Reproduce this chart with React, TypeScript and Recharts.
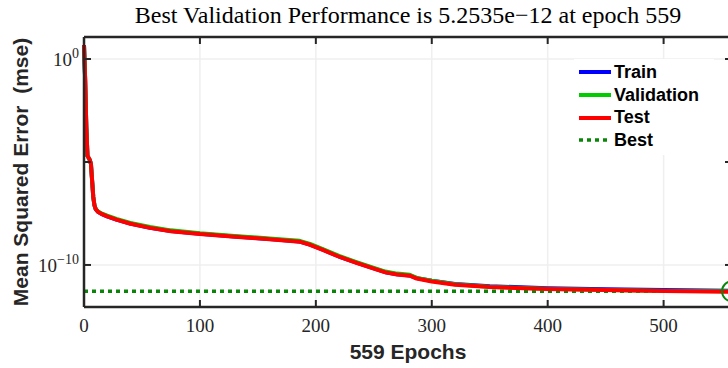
import React from "react";
import {
  LineChart,
  Line,
  XAxis,
  YAxis,
  CartesianGrid,
  ReferenceLine,
  ReferenceDot,
  Legend,
} from "recharts";

// training record, mse stored as log10 values per epoch
const EPOCHS = [
  0, 1, 2, 3, 4, 5, 6, 7, 8, 9, 10, 12, 15, 20, 28, 40, 57, 75, 100, 130, 160,
  186, 195, 206, 220, 235, 250, 260, 270, 281, 287, 300, 320, 350, 400, 450,
  500, 559,
];
const TRAIN_LOG = [
  0.68, -1.0, -3.3, -4.7, -4.8, -4.9, -5.1, -5.9, -6.7, -7.1, -7.28, -7.42,
  -7.52, -7.64, -7.8, -7.99, -8.19, -8.35, -8.49, -8.62, -8.74, -8.86, -9.01,
  -9.26, -9.59, -9.89, -10.17, -10.35, -10.45, -10.51, -10.64, -10.77, -10.92,
  -11.03, -11.13, -11.18, -11.22, -11.25,
];
const VALIDATION_LOG = [
  0.68, -1.0, -3.3, -4.7, -4.8, -4.9, -5.1, -5.9, -6.7, -7.1, -7.27, -7.4,
  -7.49, -7.6, -7.76, -7.96, -8.16, -8.32, -8.46, -8.59, -8.71, -8.83, -8.98,
  -9.23, -9.56, -9.86, -10.14, -10.32, -10.42, -10.48, -10.63, -10.77, -10.94,
  -11.06, -11.16, -11.22, -11.25, -11.2795,
];
const TEST_LOG = [
  0.68, -1.0, -3.3, -4.7, -4.8, -4.9, -5.1, -5.9, -6.7, -7.1, -7.28, -7.42,
  -7.52, -7.64, -7.8, -8.0, -8.2, -8.36, -8.5, -8.63, -8.75, -8.87, -9.02,
  -9.27, -9.6, -9.9, -10.18, -10.36, -10.46, -10.52, -10.66, -10.8, -10.96,
  -11.07, -11.17, -11.22, -11.26, -11.3,
];

const BEST_EPOCH = 559;
const BEST_PERF = 5.2535e-12;

const X_TICKS = [0, 100, 200, 300, 400, 500];
const Y_TICKS = [1e-10, 1e-5, 1];
const Y_LABELED: Record<number, string> = { 1: "0", 1e-10: "\u221210" };
const Y_DOMAIN = [9.1e-13, 11.7];

const SERIES = [
  { key: "train", name: "Train", color: "#0000ff" },
  { key: "validation", name: "Validation", color: "#00cc00" },
  { key: "test", name: "Test", color: "#ff0000" },
];
const BEST_COLOR = "#0a850a";

const data = EPOCHS.map((epoch, i) => ({
  epoch,
  train: 10 ** TRAIN_LOG[i],
  validation: 10 ** VALIDATION_LOG[i],
  test: 10 ** TEST_LOG[i],
}));

const W = 760;
const H = 368;
const LEFT = 84;
const TOP = 37;
const PLOT_W = 648;
const PLOT_H = 270;
const AXIS = "#262626";
const SERIF = "'Liberation Serif', 'DejaVu Serif', serif";
const SANS = "'Liberation Sans', Arial, sans-serif";
const TICK_LEN = 7;

function XTick({ x, y, payload }: any) {
  return (
    <g>
      <line x1={x} x2={x} y1={y} y2={y - TICK_LEN} stroke={AXIS} strokeWidth={2} />
      <line x1={x} x2={x} y1={TOP} y2={TOP + TICK_LEN} stroke={AXIS} strokeWidth={2} />
      <text x={x} y={y + 25} textAnchor="middle" fontFamily={SERIF} fontSize={19} fill="#262626">
        {payload.value}
      </text>
    </g>
  );
}

function YTick({ x, y, payload }: any) {
  const exp = Y_LABELED[payload.value];
  return (
    <g>
      <line x1={x} x2={x + TICK_LEN} y1={y} y2={y} stroke={AXIS} strokeWidth={2} />
      <line x1={LEFT + PLOT_W} x2={LEFT + PLOT_W - TICK_LEN} y1={y} y2={y} stroke={AXIS} strokeWidth={2} />
      {exp !== undefined && (
        <text x={x - 5} y={y + 7} textAnchor="end" fontFamily={SERIF} fontSize={19} fill="#262626">
          10
          <tspan dy={-8} fontSize={14}>
            {exp}
          </tspan>
        </text>
      )}
    </g>
  );
}

function LegendBox() {
  const rows = [
    ...SERIES.map((s) => ({ name: s.name, color: s.color, dotted: false })),
    { name: "Best", color: BEST_COLOR, dotted: true },
  ];
  return (
    <div style={{ background: "#fff", width: 140, height: 94, paddingTop: 2 }}>
      {rows.map((r) => (
        <div
          key={r.name}
          style={{ display: "flex", alignItems: "center", height: 22.7, fontFamily: SANS, fontWeight: 700, fontSize: 18, color: "#000" }}
        >
          <svg width={40} height={10} style={{ display: "block" }}>
            <line
              x1={5}
              x2={37}
              y1={5}
              y2={5}
              stroke={r.color}
              strokeWidth={r.dotted ? 3.5 : 4}
              strokeDasharray={r.dotted ? "4 4" : undefined}
            />
          </svg>
          <span>{r.name}</span>
        </div>
      ))}
    </div>
  );
}

export default function App() {
  return (
    <div style={{ position: "absolute", left: 0, top: 0, width: 728, height: 368, overflow: "hidden", background: "#fff" }}>
      <div
        style={{ position: "absolute", left: LEFT, width: PLOT_W, top: 2, textAlign: "center", fontFamily: SERIF, fontSize: 24, color: "#000", whiteSpace: "nowrap" }}
      >
        Best Validation Performance is 5.2535e{"\u2212"}12 at epoch 559
      </div>
      <div style={{ position: "absolute", left: 0, top: 0 }}>
        <LineChart width={W} height={H} data={data} margin={{ top: TOP, right: W - LEFT - PLOT_W, bottom: 0, left: 0 }}>
          <CartesianGrid
            stroke="#efefef"
            strokeWidth={1.5}
            horizontalValues={[1, 1e-10]}
            verticalValues={[100, 200, 300, 400, 500]}
          />
          <XAxis
            dataKey="epoch"
            type="number"
            domain={[0, BEST_EPOCH]}
            ticks={X_TICKS}
            interval={0}
            height={H - TOP - PLOT_H}
            tickSize={0}
            tickMargin={0}
            tick={<XTick />}
            axisLine={{ stroke: AXIS, strokeWidth: 2.5 }}
            label={{
              value: "559 Epochs",
              position: "insideBottom",
              offset: 9,
              style: { fontFamily: SANS, fontWeight: 700, fontSize: 21, fill: "#262626" },
            }}
          />
          <YAxis
            type="number"
            scale="log"
            domain={Y_DOMAIN}
            allowDataOverflow
            ticks={Y_TICKS}
            interval={0}
            width={LEFT}
            tickSize={0}
            tickMargin={0}
            tick={<YTick />}
            axisLine={{ stroke: AXIS, strokeWidth: 2.5 }}
            label={{
              content: () => (
                <text
                  x={20}
                  y={TOP + PLOT_H / 2}
                  transform={`rotate(-90 20 ${TOP + PLOT_H / 2})`}
                  textAnchor="middle"
                  dominantBaseline="central"
                  fontFamily={SANS}
                  fontWeight={700}
                  fontSize={21}
                  fill="#262626"
                  style={{ whiteSpace: "pre" }}
                >
                  {"Mean Squared Error  (mse)"}
                </text>
              ),
            }}
          />
          <ReferenceLine y={Y_DOMAIN[1]} stroke={AXIS} strokeWidth={2.5} />
          <ReferenceLine x={BEST_EPOCH} stroke={AXIS} strokeWidth={2.5} />
          <ReferenceLine
            y={BEST_PERF}
            stroke={BEST_COLOR}
            strokeWidth={3.5}
            strokeDasharray="4 4"
          />
          {SERIES.map((s) => (
            <Line
              key={s.key}
              dataKey={s.key}
              name={s.name}
              stroke={s.color}
              strokeWidth={4}
              strokeLinejoin="round"
              dot={false}
              isAnimationActive={false}
            />
          ))}
          <ReferenceDot
            x={BEST_EPOCH}
            y={BEST_PERF}
            r={10}
            fill="none"
            stroke={BEST_COLOR}
            strokeWidth={2}
          />
          <Legend
            layout="horizontal"
            verticalAlign="middle"
            align="center"
            content={() => <LegendBox />}
            wrapperStyle={{ position: "absolute", left: 574, top: 59, width: 140, height: 94 }}
          />
        </LineChart>
      </div>
    </div>
  );
}
